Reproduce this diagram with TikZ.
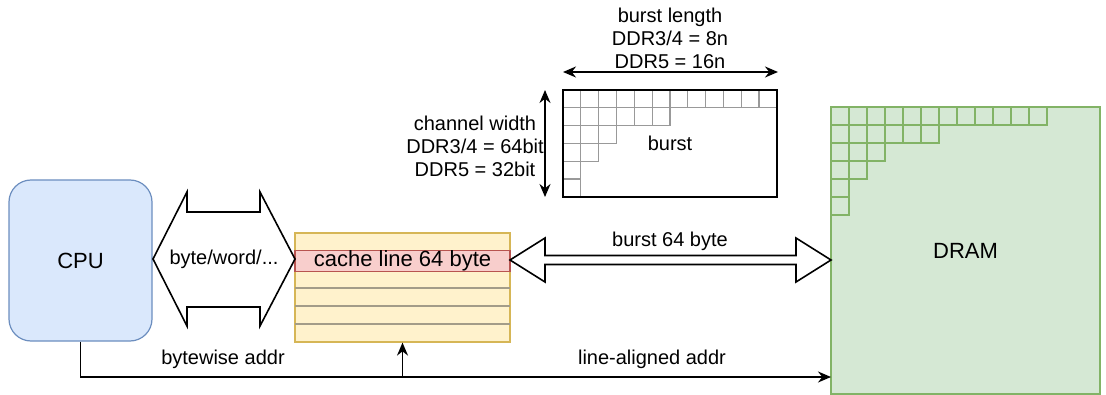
\documentclass[tikz,border=0pt]{standalone}
\usepackage{fontspec}
\setmainfont{Liberation Sans}
\usetikzlibrary{positioning,calc,arrows.meta}
\definecolor{cpufill}{HTML}{DAE8FC}
\definecolor{cpuline}{HTML}{6C8EBF}
\definecolor{cachefill}{HTML}{FFF2CC}
\definecolor{cacheline}{HTML}{D6B656}
\definecolor{rowfill}{HTML}{F8CECC}
\definecolor{rowline}{HTML}{B85450}
\definecolor{rowsep}{HTML}{A39C88}
\definecolor{dramfill}{HTML}{D5E8D4}
\definecolor{dramline}{HTML}{82B366}

\begin{document}
\begin{tikzpicture}[x=0.5pt,y=-0.5pt,
  font=\fontsize{10}{11.5}\selectfont,
  big/.style={font=\fontsize{11}{13}\selectfont},
  box/.style={draw,line width=0.6pt,inner sep=0pt},
  link/.style={line width=0.8pt,-{Stealth[length=6.5pt,width=5.5pt]}},
  span/.style={line width=0.8pt,{Stealth[length=6.5pt,width=5.5pt]}-{Stealth[length=6.5pt,width=5.5pt]}},
  fat/.style={draw,line width=0.8pt,fill=white,line join=miter}]
\useasboundingbox (0,0) rectangle (1106,395);
% Blocks
\node[box,big,fill=cpufill,draw=cpuline,rounded corners=11pt,
  minimum width=71.5pt,minimum height=80.5pt] (cpu) at (80.5,260.5) {CPU};
\node[box,fill=cachefill,draw=cacheline,
  minimum width=107.5pt,minimum height=54.5pt] (cache) at (402.5,287.5) {};
\node[box,big,fill=dramfill,draw=dramline,
  minimum width=134.5pt,minimum height=143.5pt] (dram) at (965.5,250.5) {DRAM};
\node[box,minimum width=107pt,minimum height=53.5pt] (burst) at (670,143.5) {};
% Cache rows, the first one is the cache line
\foreach \y in {288,306,324}
  \draw[rowsep,line width=0.6pt] (295,\y) -- (510,\y);
\node[box,big,fill=rowfill,draw=rowline,minimum width=107.5pt,minimum height=9pt]
  (row) at (402.5,261) {cache line 64 byte};
% Burst grid (staircase)
\foreach \r/\n in {0/12,1/6,2/3,3/2,4/1,5/1}
  \foreach \c in {1,...,\n}
    \draw[gray!80,line width=0.65pt] ($(563,90)+(\c*17.83-17.83,\r*17.83)$) rectangle ++(17.83,17.83);
\node[box,minimum width=107pt,minimum height=53.5pt] at (burst) {burst};
% DRAM grid (staircase)
\foreach \r/\n in {0/12,1/6,2/3,3/2,4/1,5/1}
  \foreach \c in {1,...,\n}
    \draw[dramline,line width=1pt] ($(831,107)+(\c*18-18,\r*18)$) rectangle ++(18,18);
% Block arrows
\draw[fat] (153,259) -- (187,192) -- (187,212) -- (260,212) -- (260,192) -- (295,259)
  -- (260,326) -- (260,307) -- (187,307) -- (187,326) -- cycle;
\node (width) at (224,259) {byte/word/...};
\draw[fat] (510,260) -- (545,238) -- (545,255.5) -- (796,255.5) -- (796,238) -- (831,260)
  -- (796,282) -- (796,264.5) -- (545,264.5) -- (545,282) -- cycle;
\node (bus) at (670,241) {burst 64 byte};
% Dimensions of a burst
\coordinate (bl) at (563,72);
\coordinate (br) at (778,72);
\draw[span] (bl) -- (br);
\node[align=center] (blen) at (670,38) {burst length\\DDR3/4 = 8n\\DDR5 = 16n};
\coordinate (ct) at (545,90);
\coordinate (cb) at (545,197);
\draw[span] (ct) -- (cb);
\node[align=center] (cwid) at (475,146) {channel width\\DDR3/4 = 64bit\\DDR5 = 32bit};
% Addresses
\coordinate (dramin) at (831,377);
\coordinate (split) at (cache.south |- dramin);
\draw[link] (cpu.south) |- (dramin);
\draw[link] (split) -- (cache.south);
\node (baddr) at (223,359) {bytewise addr};
\node (laddr) at (652,359) {line-aligned addr};
\end{tikzpicture}
\end{document}
